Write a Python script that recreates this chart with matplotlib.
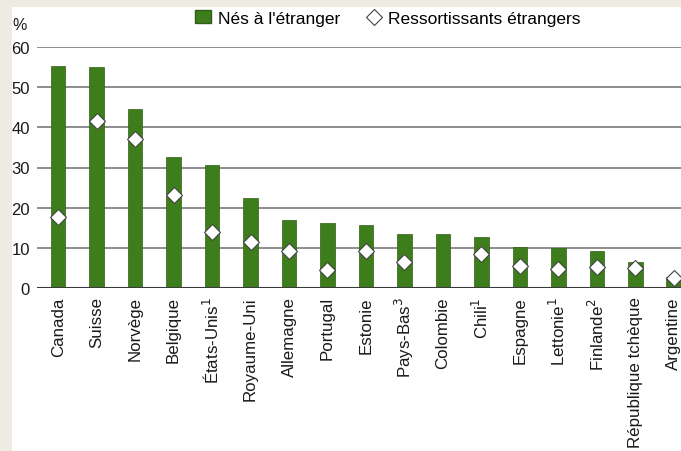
import matplotlib
matplotlib.use('Agg')
import matplotlib.pyplot as plt
from matplotlib.lines import Line2D
from matplotlib.patches import Patch

plt.rcParams['font.family'] = ['Liberation Sans Narrow', 'Liberation Sans', 'DejaVu Sans']

pays = ['Canada', 'Suisse', 'Norvège', 'Belgique', 'États-Unis$^1$', 'Royaume-Uni',
        'Allemagne', 'Portugal', 'Estonie', 'Pays-Bas$^3$', 'Colombie', 'Chili$^1$',
        'Espagne', 'Lettonie$^1$', 'Finlande$^2$', 'République tchèque', 'Argentine']
nes_etranger = [55.2, 55.0, 44.6, 32.5, 30.5, 22.5, 17.0, 16.2, 15.8, 13.5, 13.5,
                12.8, 10.3, 10.0, 9.2, 6.4, 2.8]
ressortissants = [17.7, 41.6, 37.0, 23.2, 14.0, 11.4, 9.3, 4.5, 9.3, 6.4, None,
                  8.5, 5.6, 4.7, 5.3, 5.0, 2.5]

vert = '#3d7d1c'

fig = plt.figure(figsize=(6.81, 4.52), dpi=100, facecolor='#edebe2')
# fond blanc de la zone du graphique
fond = fig.add_axes([12 / 681, 0, 1, 1 - 8 / 452], zorder=-1)
fond.set_facecolor('white')
fond.set_axis_off()
fond.add_patch(plt.Rectangle((0, 0), 1, 1, transform=fond.transAxes, color='white'))

ax = fig.add_axes([37 / 681, 1 - 289 / 452, 656 / 681, 241 / 452])
ax.set_facecolor('none')

x = list(range(len(pays)))
ax.bar(x, nes_etranger, width=0.38, color=vert, edgecolor='#2e5e14', linewidth=0.5, zorder=2)
xm = [i for i, v in zip(x, ressortissants) if v is not None]
ym = [v for v in ressortissants if v is not None]
ax.plot(xm, ym, linestyle='none', marker='D', markersize=8, markerfacecolor='white',
        markeredgecolor='#444444', markeredgewidth=0.8, zorder=3)

ax.set_xlim(-0.55, 16.5)
ax.set_ylim(0, 60)
ax.set_yticks(range(0, 61, 10))
ax.yaxis.grid(True, color='#7a7a7a', linewidth=1.2, zorder=1)
ax.set_axisbelow(True)
ax.axhline(0, color='#3a3a3a', linewidth=1.5, zorder=4)
for s in ax.spines.values():
    s.set_visible(False)
ax.tick_params(axis='y', length=0, pad=5, labelsize=12, labelcolor='#1a1a1a')
ax.tick_params(axis='x', length=0, pad=6, labelsize=12.2, labelcolor='#1a1a1a')
ax.set_xticks(x)
ax.set_xticklabels(pays, rotation=90, va='top')

fig.text(12 / 681, 1 - 25 / 452, '%', fontsize=11.5, color='#1a1a1a', va='center')

handles = [Patch(facecolor=vert, edgecolor='#2e5e14'),
           Line2D([], [], linestyle='none', marker='D', markersize=8,
                  markerfacecolor='white', markeredgecolor='#444444', markeredgewidth=0.8)]
fig.legend(handles, ["Nés à l'étranger", 'Ressortissants étrangers'], ncol=2,
           loc='center', bbox_to_anchor=(388 / 681, 1 - 19 / 452), frameon=False,
           fontsize=12.5, handlelength=0.9, handletextpad=0.4, columnspacing=1.5,
           borderpad=0)

fig.savefig('out.png', dpi=100, facecolor=fig.get_facecolor())
